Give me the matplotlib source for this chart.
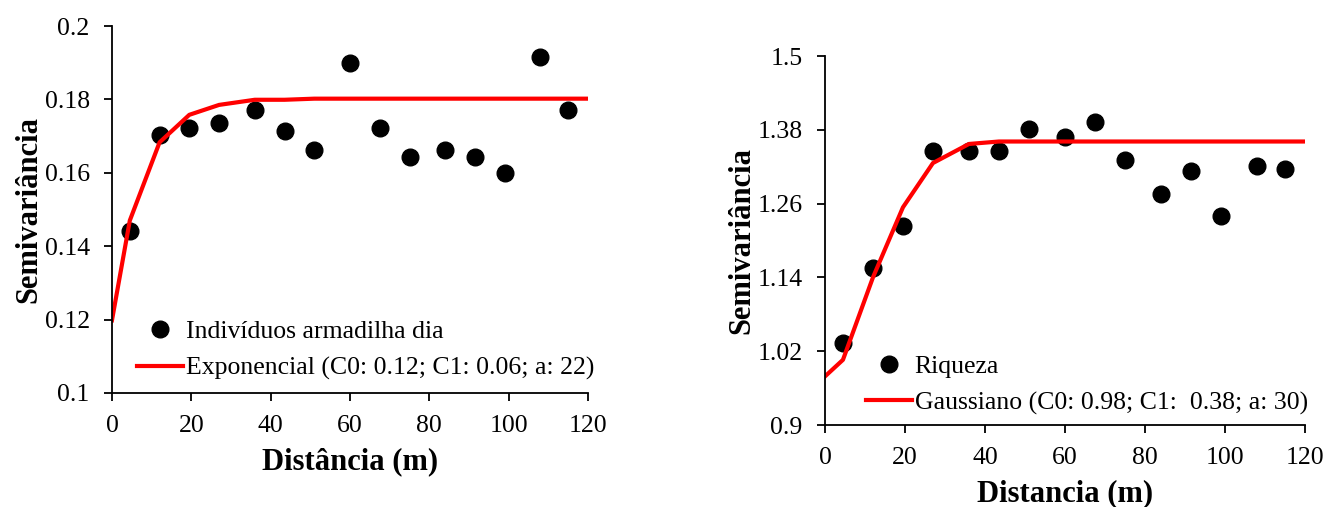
import numpy as np
import matplotlib.pyplot as plt

plt.rcParams['font.family'] = ['Liberation Serif', 'DejaVu Serif']

# ----- Data ----- #
lag = [4.5, 12, 19.5, 27, 36, 43.5, 51, 60, 67.5, 75, 84, 91.5, 99, 108, 115]

ind_obs = [0.1442, 0.1704, 0.1723, 0.1735, 0.1771, 0.1714, 0.1661, 0.1898,
           0.1723, 0.1644, 0.1661, 0.1644, 0.1600, 0.1916, 0.1771]
ind_fit_x = [0, 4.5, 12, 19.5, 27, 36, 43.5, 51, 120]
ind_fit_y = [0.1198, 0.1470, 0.1683, 0.1758, 0.1785, 0.1799, 0.1799, 0.1802, 0.1802]

riq_obs = [1.034, 1.156, 1.224, 1.345, 1.345, 1.345, 1.382, 1.368,
           1.392, 1.331, 1.276, 1.313, 1.240, 1.321, 1.316]
riq_fit_x = [0, 4.5, 12, 19.5, 27, 36, 43.5, 120]
riq_fit_y = [0.979, 1.006, 1.140, 1.254, 1.326, 1.357, 1.361, 1.361]

ind_yticks = [0.1, 0.12, 0.14, 0.16, 0.18, 0.2]
riq_yticks = [0.9, 1.02, 1.14, 1.26, 1.38, 1.5]
xticks = [0, 20, 40, 60, 80, 100, 120]

fig = plt.figure(figsize=(13.25, 5.07), dpi=100)
ax1 = fig.add_axes([0.0845, 0.2249, 0.3593, 0.7238])
ax2 = fig.add_axes([0.6226, 0.1617, 0.3623, 0.7278])


def style(ax, yticks, xlab):
    ax.set_xlim(0, 120)
    ax.set_ylim(yticks[0], yticks[-1])
    ax.set_xticks(xticks)
    ax.set_yticks(yticks)
    ax.set_yticklabels(['%g' % v for v in yticks])
    for s in ['top', 'right']:
        ax.spines[s].set_visible(False)
    for s in ['left', 'bottom']:
        ax.spines[s].set_linewidth(1.3)
    ax.tick_params(direction='out', length=6, width=1.3, labelsize=18.5)
    ax.tick_params(axis='x', pad=10)
    ax.tick_params(axis='y', pad=10)
    ax.set_ylabel('Semivariância', fontsize=22, fontweight='bold', labelpad=1)
    ax.set_xlabel(xlab, fontsize=22, fontweight='bold', labelpad=7)


# ----- Left: individuals ----- #
ax1.plot(lag, ind_obs, 'o', color='black', markersize=12, label='Indivíduos armadilha dia', clip_on=False)
ax1.plot(ind_fit_x, ind_fit_y, '-', color='#ff0000', lw=3, label='Exponencial (C0: 0.12; C1: 0.06; a: 22)')
style(ax1, ind_yticks, 'Distância (m)')
ax1.legend(loc='lower left', bbox_to_anchor=(0.053, 0.035), frameon=False, fontsize=18.5,
           handlelength=1.8, handletextpad=0.1, labelspacing=0.53, borderpad=0, borderaxespad=0)

# ----- Right: richness ----- #
ax2.plot(lag, riq_obs, 'o', color='black', markersize=12, label='Riqueza', clip_on=False)
ax2.plot(riq_fit_x, riq_fit_y, '-', color='#ff0000', lw=3, label='Gaussiano (C0: 0.98; C1:  0.38; a: 30)')
style(ax2, riq_yticks, 'Distancia (m)')
ax2.legend(loc='lower left', bbox_to_anchor=(0.085, 0.028), frameon=False, fontsize=18.5,
           handlelength=1.8, handletextpad=0.1, labelspacing=0.53, borderpad=0, borderaxespad=0)

fig.savefig('out.png', dpi=100)
